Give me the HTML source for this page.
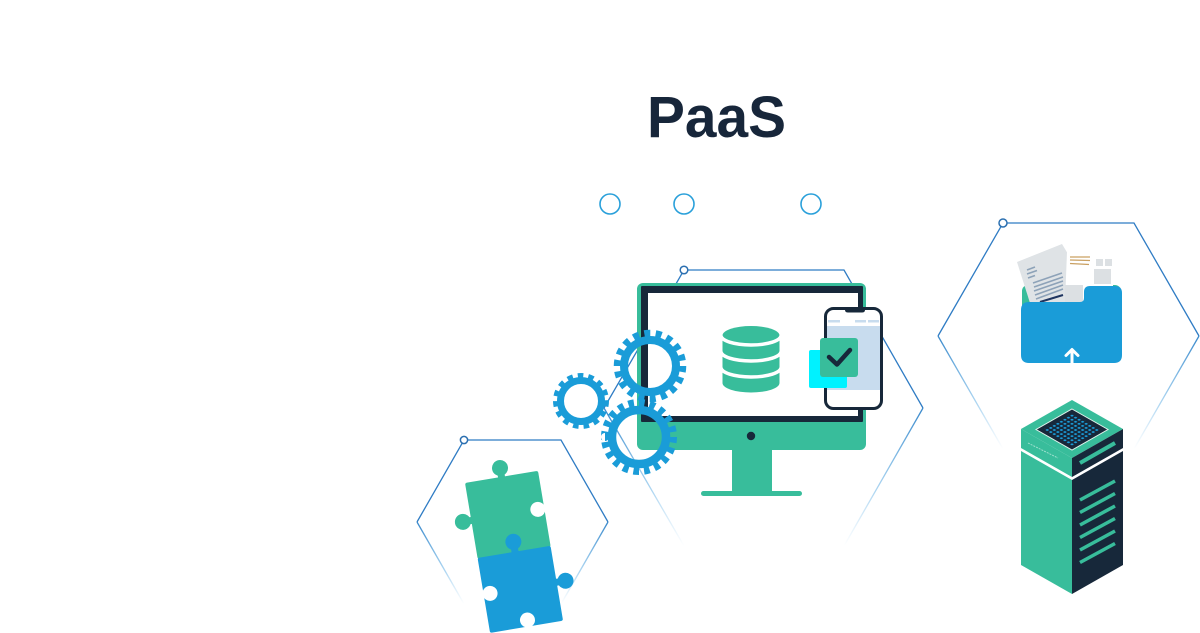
<!DOCTYPE html>
<html><head><meta charset="utf-8"><style>
html,body{margin:0;padding:0;background:#fff;width:1200px;height:633px;overflow:hidden}
svg{display:block}
</style></head><body>
<svg width="1200" height="633" viewBox="0 0 1200 633" xmlns="http://www.w3.org/2000/svg">
<defs>
<linearGradient id="gc" gradientUnits="userSpaceOnUse" x1="0" y1="408" x2="0" y2="546">
<stop offset="0" stop-color="#2f82c8" stop-opacity="0.95"/><stop offset="0.6" stop-color="#4aa3e0" stop-opacity="0.45"/><stop offset="1" stop-color="#6ab8ea" stop-opacity="0"/></linearGradient>
<linearGradient id="gr" gradientUnits="userSpaceOnUse" x1="0" y1="336" x2="0" y2="449">
<stop offset="0" stop-color="#2f82c8" stop-opacity="0.95"/><stop offset="0.6" stop-color="#4aa3e0" stop-opacity="0.45"/><stop offset="1" stop-color="#6ab8ea" stop-opacity="0"/></linearGradient>
<linearGradient id="gp" gradientUnits="userSpaceOnUse" x1="0" y1="522" x2="0" y2="604">
<stop offset="0" stop-color="#2f82c8" stop-opacity="0.95"/><stop offset="0.6" stop-color="#4aa3e0" stop-opacity="0.45"/><stop offset="1" stop-color="#6ab8ea" stop-opacity="0"/></linearGradient>
<pattern id="dots" patternUnits="userSpaceOnUse" width="5" height="5" patternTransform="translate(1072,430) scale(1,0.58) rotate(45)">
<circle cx="2.5" cy="2.5" r="1.5" fill="#1a9cd8"/></pattern>
<mask id="mg" maskUnits="userSpaceOnUse" x="-30" y="-30" width="160" height="200">
<rect x="-30" y="-30" width="160" height="200" fill="#fff"/>
<circle cx="67.5" cy="38" r="7.5" fill="#000"/>
</mask>
<mask id="mb" maskUnits="userSpaceOnUse" x="-30" y="-30" width="160" height="220">
<rect x="-30" y="-30" width="160" height="220" fill="#fff"/>
<circle cx="6.5" cy="113" r="7.5" fill="#000"/>
<circle cx="39" cy="145.5" r="7.5" fill="#000"/>
</mask>
</defs>

<!-- Title -->
<text x="647" y="137" font-family="'Liberation Sans', Arial, sans-serif" font-weight="700" font-size="58" fill="#17263a" textLength="139" lengthAdjust="spacingAndGlyphs">PaaS</text>

<!-- small circles -->
<g fill="none" stroke="#2aa0da" stroke-width="1.6">
<circle cx="610" cy="204" r="10"/><circle cx="684" cy="204" r="10"/><circle cx="811" cy="204" r="10"/>
</g>

<!-- Hexagons -->
<g fill="none" stroke-width="1.3">
<polyline points="604,408 684,270 844,270 923,408" stroke="#2f7cc4"/>
<line x1="604" y1="408" x2="684" y2="546" stroke="url(#gc)"/>
<line x1="923" y1="408" x2="844" y2="546" stroke="url(#gc)"/>
<polyline points="938,336 1003,223 1134,223 1199,336" stroke="#2f7cc4"/>
<line x1="938" y1="336" x2="1003" y2="449" stroke="url(#gr)"/>
<line x1="1199" y1="336" x2="1134" y2="449" stroke="url(#gr)"/>
<polyline points="417,522 464,440 561,440 608,522" stroke="#2f7cc4"/>
<line x1="417" y1="522" x2="464" y2="604" stroke="url(#gp)"/>
<line x1="608" y1="522" x2="561" y2="604" stroke="url(#gp)"/>
</g>
<g fill="#fff" stroke="#2b6fb0" stroke-width="1.5">
<circle cx="684" cy="270" r="3.8"/><circle cx="1003" cy="223" r="4"/><circle cx="464" cy="440" r="3.6"/>
</g>

<!-- Monitor -->
<rect x="637" y="283" width="229" height="167" rx="6" fill="#38bd9b"/>
<rect x="641" y="286" width="222" height="136" rx="1" fill="#17283a"/>
<rect x="648" y="293" width="210" height="123" fill="#fff"/>
<circle cx="751" cy="436" r="4.2" fill="#17283a"/>
<rect x="732" y="449" width="40" height="44" fill="#38bd9b"/>
<rect x="701" y="491" width="101" height="5" rx="2.5" fill="#38bd9b"/>

<!-- Database -->
<g fill="#38bd9b">
<rect x="722.5" y="335.5" width="57" height="47.5"/>
<ellipse cx="751" cy="335.5" rx="28.5" ry="9.5"/>
<ellipse cx="751" cy="383" rx="28.5" ry="9.5"/>
</g>
<g fill="none" stroke="#fff" stroke-width="3.5">
<path d="M721,335.5 A30,9.5 0 0 0 781,335.5"/>
<path d="M721,351.5 A30,9.5 0 0 0 781,351.5"/>
<path d="M721,367.5 A30,9.5 0 0 0 781,367.5"/>
</g>

<!-- Phone -->
<rect x="825.5" y="308.5" width="56" height="100" rx="8" fill="#fff" stroke="#17283a" stroke-width="3"/>
<rect x="827" y="326" width="53" height="64" fill="#c8dcee"/>
<g fill="#c8dcee">
<rect x="828" y="320" width="12" height="2.5"/><rect x="855" y="320" width="11" height="2.5"/><rect x="868" y="320" width="11" height="2.5"/>
</g>
<path d="M845,307 L865,307 L865,310 Q865,312.5 862,312.5 L848,312.5 Q845,312.5 845,310 Z" fill="#17283a"/>
<rect x="809" y="350" width="38" height="38" rx="2" fill="#00f2ff"/>
<rect x="820" y="338" width="38" height="39" rx="3" fill="#38bd9b"/>
<path d="M829,357 L837,364.5 L850,350" fill="none" stroke="#17283a" stroke-width="4.5" stroke-linecap="round" stroke-linejoin="round"/>

<!-- Gears -->
<g fill="none" stroke="#1a9cd8">
<circle cx="650" cy="366" r="26" stroke-width="8"/>
<circle cx="650" cy="366" r="32.5" stroke-width="7.5" pathLength="36" stroke-dasharray="1.05 0.95"/>
<circle cx="581" cy="401" r="20.5" stroke-width="7"/>
<circle cx="581" cy="401" r="25" stroke-width="6" pathLength="30" stroke-dasharray="1.05 0.95"/>
<circle cx="639" cy="437" r="27" stroke-width="8.5"/>
<circle cx="639" cy="437" r="34" stroke-width="8" pathLength="40" stroke-dasharray="1.05 0.95"/>
</g>

<!-- Puzzle -->
<g transform="translate(465,483) rotate(-9.5)">
<g mask="url(#mg)" fill="#38bd9b">
<rect x="0" y="0" width="74" height="77" rx="2"/>
<circle cx="37" cy="-9" r="8"/><rect x="33.5" y="-3" width="7" height="5"/>
<circle cx="-8.5" cy="38" r="8"/><rect x="-3" y="34.5" width="5" height="7"/>
</g>
<g mask="url(#mb)" fill="#1a9cd8">
<rect x="0" y="76" width="74" height="76" rx="2"/>
<circle cx="38" cy="66" r="8"/><rect x="34.5" y="71" width="7" height="7"/>
<circle cx="83" cy="113" r="8"/><rect x="72" y="109.5" width="6" height="7"/>
</g>
</g>

<!-- Folder -->
<rect x="1022" y="285" width="99" height="40" rx="6" fill="#38bd9b"/>
<polygon points="1017,262 1062,244 1068,254 1066,303 1030,303" fill="#dfe3e6"/>
<g stroke="#8da2b8" stroke-width="1.6">
<line x1="1027" y1="270" x2="1035" y2="267"/>
<line x1="1027" y1="274" x2="1037" y2="270.5"/>
<line x1="1028" y1="278" x2="1035" y2="275.5"/>
<line x1="1033" y1="283" x2="1062" y2="273"/>
<line x1="1034" y1="287" x2="1063" y2="277"/>
<line x1="1034" y1="291" x2="1063" y2="281"/>
<line x1="1035" y1="295" x2="1063" y2="285"/>
<line x1="1036" y1="299" x2="1063" y2="289"/>
</g>
<line x1="1040" y1="302" x2="1063" y2="295" stroke="#1f3560" stroke-width="2"/>
<polygon points="1067,252 1113,252 1113,303 1065,303" fill="#fff"/>
<g stroke="#c9a062" stroke-width="1.3">
<line x1="1070" y1="257" x2="1090" y2="257"/><line x1="1070" y1="260" x2="1090" y2="260.5"/><line x1="1070" y1="263.5" x2="1089" y2="264.5"/>
</g>
<g fill="#dce0e3">
<rect x="1096" y="259" width="7" height="7"/><rect x="1105" y="259" width="7" height="7"/>
<rect x="1094" y="269" width="17" height="15"/><rect x="1065" y="285" width="18" height="18"/>
</g>
<path d="M1029,302 L1080,302 Q1084,302 1084,298 L1084,292 Q1084,286 1090,286 L1115,286 Q1122,286 1122,293 L1122,355 Q1122,363 1114,363 L1029,363 Q1021,363 1021,355 L1021,310 Q1021,302 1029,302 Z" fill="#1a9cd8"/>
<g fill="none" stroke="#fff" stroke-width="3" stroke-linecap="round" stroke-linejoin="round">
<line x1="1072" y1="363" x2="1072" y2="350"/><polyline points="1066,355.5 1072,349.5 1078,355.5"/>
</g>

<!-- Server -->
<polygon points="1072,400 1123,429 1072,458 1021,429" fill="#38bd9b"/>
<polygon points="1072,409 1108,429.5 1072,450 1036,429.5" fill="#17283a" stroke="#dff3ec" stroke-width="1"/>
<polygon points="1072,413 1101,429.5 1072,446 1043,429.5" fill="url(#dots)"/>
<polygon points="1021,429 1072,458 1072,477 1021,448" fill="#38bd9b"/>
<polygon points="1072,458 1123,429 1123,448 1072,477" fill="#17283a"/>
<line x1="1028" y1="443" x2="1058" y2="458" stroke="#a6e2d2" stroke-width="0.9" stroke-dasharray="2 1"/>
<polygon points="1021,451 1072,480 1072,594 1021,565" fill="#38bd9b"/>
<polygon points="1072,480 1123,451 1123,565 1072,594" fill="#17283a"/>
<g stroke="#38bd9b" stroke-width="4">
<line x1="1080" y1="463" x2="1115" y2="443"/>
</g>
<g stroke="#38bd9b" stroke-width="3.5">
<line x1="1080" y1="500" x2="1115" y2="481"/>
<line x1="1080" y1="512.5" x2="1115" y2="493.5"/>
<line x1="1080" y1="525" x2="1115" y2="506"/>
<line x1="1080" y1="537.5" x2="1115" y2="518.5"/>
<line x1="1080" y1="550" x2="1115" y2="531"/>
<line x1="1080" y1="562.5" x2="1115" y2="543.5"/>
</g>
</svg>
</body></html>
